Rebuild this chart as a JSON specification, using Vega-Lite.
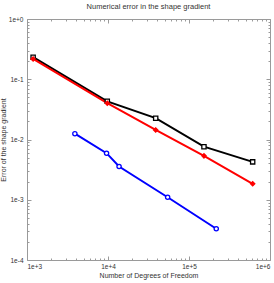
{
  "$schema": "https://vega.github.io/schema/vega-lite/v6.json",
  "autosize": "none",
  "width": 243,
  "height": 241,
  "padding": {"left": 27, "top": 19, "right": 4, "bottom": 23},
  "background": "white",
  "config": {
    "font": "Liberation Sans",
    "view": {"stroke": null},
    "axis": {
      "domainColor": "#9a9a9a",
      "tickColor": "#9a9a9a",
      "grid": false,
      "labelFont": "Liberation Sans",
      "labelFontSize": 6.5,
      "labelColor": "#333333",
      "titleFont": "Liberation Sans",
      "titleFontSize": 7,
      "titleFontWeight": "normal",
      "titleColor": "#333333",
      "tickSize": {"condition": {"test": "abs(log(datum.value)/LN10 - round(log(datum.value)/LN10)) < 0.001", "value": -4}, "value": -2}
    }
  },
  "title": {
    "text": "Numerical error in the shape gradient",
    "fontSize": 7.5,
    "fontWeight": "normal",
    "color": "#333333",
    "offset": 6,
    "anchor": "middle"
  },
  "data": {
    "values": [
      {"series": "A", "dof": 1190, "err": 0.232},
      {"series": "A", "dof": 9800, "err": 0.043},
      {"series": "A", "dof": 38800, "err": 0.0226},
      {"series": "A", "dof": 153000, "err": 0.0076},
      {"series": "A", "dof": 611000, "err": 0.00425},
      {"series": "B", "dof": 1190, "err": 0.217},
      {"series": "B", "dof": 9800, "err": 0.040},
      {"series": "B", "dof": 38800, "err": 0.0144},
      {"series": "B", "dof": 153000, "err": 0.00535},
      {"series": "B", "dof": 611000, "err": 0.00184},
      {"series": "C", "dof": 3900, "err": 0.0125},
      {"series": "C", "dof": 9600, "err": 0.00593},
      {"series": "C", "dof": 13700, "err": 0.00356},
      {"series": "C", "dof": 54500, "err": 0.0011},
      {"series": "C", "dof": 217000, "err": 0.00033}
    ]
  },
  "encoding": {
    "x": {
      "field": "dof",
      "type": "quantitative",
      "scale": {"type": "log", "domain": [1000, 1000000], "nice": false},
      "title": "Number of Degrees of Freedom",
      "axis": {
        "values": [1000, 2000, 3000, 4000, 5000, 6000, 7000, 8000, 9000, 10000, 20000, 30000, 40000, 50000, 60000, 70000, 80000, 90000, 100000, 200000, 300000, 400000, 500000, 600000, 700000, 800000, 900000, 1000000],
        "labelExpr": "abs(log(datum.value)/LN10 - round(log(datum.value)/LN10)) < 0.001 ? '1e+' + round(log(datum.value)/LN10) : ''",
        "labelPadding": 7,
        "titlePadding": 2
      }
    },
    "y": {
      "field": "err",
      "type": "quantitative",
      "scale": {"type": "log", "domain": [0.0001, 1], "nice": false},
      "title": "Error of the shape gradient",
      "axis": {
        "values": [0.0001, 0.0002, 0.0003, 0.0004, 0.0005, 0.0006, 0.0007, 0.0008, 0.0009, 0.001, 0.002, 0.003, 0.004, 0.005, 0.006, 0.007, 0.008, 0.009, 0.01, 0.02, 0.03, 0.04, 0.05, 0.06, 0.07, 0.08, 0.09, 0.1, 0.2, 0.3, 0.4, 0.5, 0.6, 0.7, 0.8, 0.9, 1],
        "labelExpr": "abs(log(datum.value)/LN10 - round(log(datum.value)/LN10)) < 0.001 ? (round(log(datum.value)/LN10) >= 0 ? '1e+' + round(log(datum.value)/LN10) : '1e-' + abs(round(log(datum.value)/LN10))) : ''",
        "labelPadding": 8,
        "titlePadding": 2
      }
    }
  },
  "layer": [
    {
      "mark": {"type": "line", "strokeWidth": 2},
      "encoding": {
        "color": {
          "field": "series",
          "type": "nominal",
          "scale": {"domain": ["A", "B", "C"], "range": ["#000000", "#ff0000", "#0000ff"]},
          "legend": null
        }
      }
    },
    {
      "mark": {"type": "point", "filled": false, "strokeWidth": 1.3, "opacity": 1},
      "encoding": {
        "x": {
          "field": "dof",
          "type": "quantitative",
          "axis": {"orient": "top", "values": [1000, 2000, 3000, 4000, 5000, 6000, 7000, 8000, 9000, 10000, 20000, 30000, 40000, 50000, 60000, 70000, 80000, 90000, 100000, 200000, 300000, 400000, 500000, 600000, 700000, 800000, 900000, 1000000], "labels": false, "title": null}
        },
        "y": {
          "field": "err",
          "type": "quantitative",
          "axis": {"orient": "right", "values": [0.0001, 0.0002, 0.0003, 0.0004, 0.0005, 0.0006, 0.0007, 0.0008, 0.0009, 0.001, 0.002, 0.003, 0.004, 0.005, 0.006, 0.007, 0.008, 0.009, 0.01, 0.02, 0.03, 0.04, 0.05, 0.06, 0.07, 0.08, 0.09, 0.1, 0.2, 0.3, 0.4, 0.5, 0.6, 0.7, 0.8, 0.9, 1], "labels": false, "title": null}
        },
        "shape": {
          "field": "series",
          "type": "nominal",
          "scale": {"domain": ["A", "B", "C"], "range": ["square", "diamond", "circle"]},
          "legend": null
        },
        "stroke": {
          "field": "series",
          "type": "nominal",
          "scale": {"domain": ["A", "B", "C"], "range": ["#000000", "#ff0000", "#0000ff"]},
          "legend": null
        },
        "fill": {
          "field": "series",
          "type": "nominal",
          "scale": {"domain": ["A", "B", "C"], "range": ["#ffffff", "#ff0000", "#ffffff"]},
          "legend": null
        },
        "size": {"value": 18}
      }
    }
  ],
  "resolve": {"axis": {"x": "independent", "y": "independent"}}
}
